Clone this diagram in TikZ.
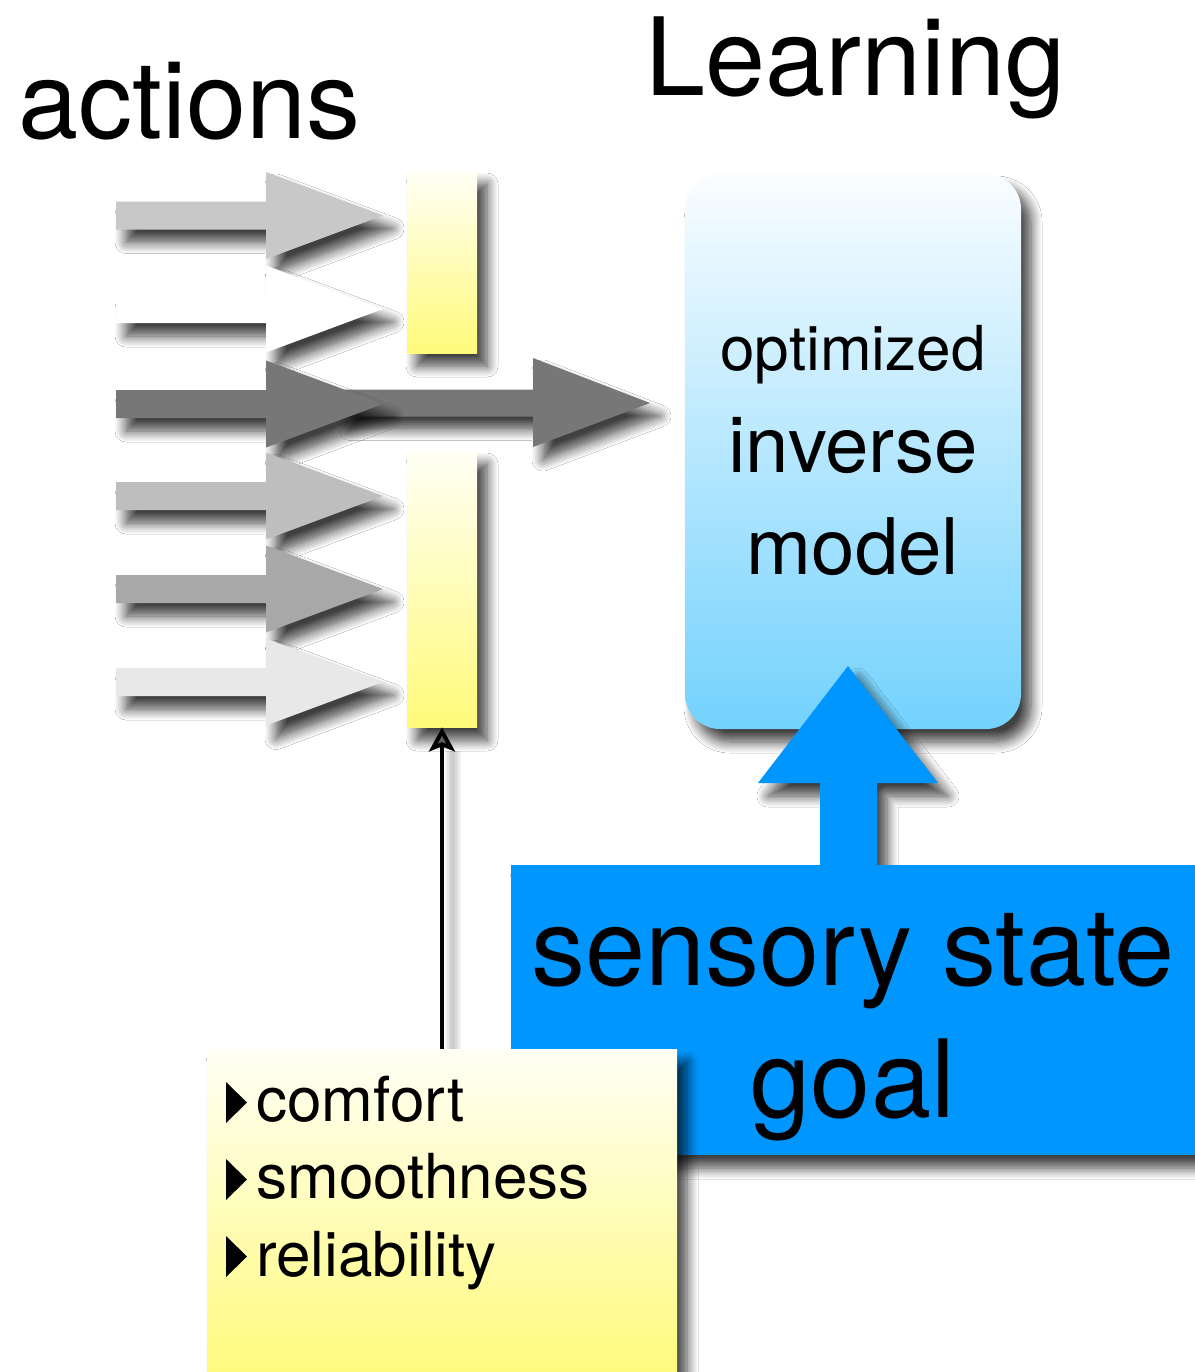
\documentclass[tikz,border=0pt]{standalone}
\usepackage{fontspec}
\setmainfont{TeX Gyre Heros}
\usetikzlibrary{shadows.blur,arrows.meta}
\definecolor{arrA}{RGB}{200,200,200}
\definecolor{arrC}{RGB}{119,119,119}
\definecolor{arrD}{RGB}{190,190,190}
\definecolor{arrE}{RGB}{168,168,168}
\definecolor{arrF}{RGB}{232,232,232}
\definecolor{goalblue}{RGB}{0,150,255}
\definecolor{yelTop}{RGB}{255,255,246}
\definecolor{yelBot}{RGB}{255,250,122}
\definecolor{bluTop}{RGB}{250,253,255}
\definecolor{bluBot}{RGB}{115,210,253}
\newcommand\blockarr[2]{%
  \path[shad,fill=#2] (116,{#1-14}) -- (266,{#1-14}) -- (266,{#1-43.5}) -- (383,#1)
    -- (266,{#1+43.5}) -- (266,{#1+14}) -- (116,{#1+14}) -- cycle;}
\newcommand\bul[1]{%
  \fill (226,{#1-41}) -- (247,{#1-20.5}) -- (226,#1) -- cycle;}
\begin{document}
\begin{tikzpicture}[x=0.5pt,y=-0.5pt,
  shad/.style={blur shadow={shadow xshift=5pt,shadow yshift=-6.5pt,shadow blur radius=5.5pt,shadow blur steps=10,shadow opacity=75}},
  yelbox/.style={shad,rectangle,inner sep=0pt,top color=yelTop,bottom color=yelBot,draw=none},
  lbl/.style={inner sep=0pt,anchor=base},
]
\useasboundingbox (0,0) rectangle (1195,1372);
\fill[white] (0,0) rectangle (1195,1372);

% titles
\node[lbl,anchor=base west] (actions) at (18,138) {\fontsize{54}{54}\selectfont actions};
\node[lbl,anchor=base west] (learning) at (645,95) {\fontsize{54}{54}\selectfont Learning};

% action arrows
\blockarr{215.5}{arrA}
\blockarr{309}{white}
\path[shad,fill=arrC] (340,389.5) -- (533,389.5) -- (533,358) -- (650,403) -- (533,447) -- (533,416.5) -- (340,416.5) -- cycle;
\blockarr{404}{arrC}
\blockarr{496}{arrD}
\blockarr{589}{arrE}
\blockarr{682}{arrF}

% yellow bars
\node[yelbox,minimum width=35pt,minimum height=91pt] (barA) at (442,262) {};
\node[yelbox,minimum width=35pt,minimum height=138pt] (barB) at (442,589) {};

% inverse model box
\node[shad,rectangle,rounded corners=17.5pt,inner sep=0pt,minimum width=168pt,minimum height=277.5pt,
  top color=bluTop,bottom color=bluBot] (model) at (853,451.5) {};
\node[lbl] (t1) at (853,370) {\fontsize{31}{31}\selectfont optimized};
\node[lbl] (t2) at (853,472) {\fontsize{39}{39}\selectfont inverse};
\node[lbl] (t3) at (853,574) {\fontsize{39}{39}\selectfont model};

% blue up arrow
\path[shad,fill=goalblue] (820,870) -- (820,783) -- (758,783) -- (848,666) -- (938,783) -- (877,783) -- (877,870) -- cycle;

% goal box
\node[shad,rectangle,inner sep=0pt,fill=goalblue,minimum width=349pt,minimum height=145pt] (goal) at (860,1010) {};
\node[lbl] (g1) at (853,985) {\fontsize{54}{54}\selectfont sensory state};
\node[lbl] (g2) at (853,1117) {\fontsize{54}{54}\selectfont goal};

% criteria box
\node[yelbox,minimum width=235pt,minimum height=165.5pt] (crit) at (442,1214.5) {};
\bul{1123}
\bul{1200}
\bul{1277}
\node[lbl,anchor=base west] (c1) at (256,1121) {\fontsize{31}{31}\selectfont comfort};
\node[lbl,anchor=base west] (c2) at (256,1198) {\fontsize{31}{31}\selectfont smoothness};
\node[lbl,anchor=base west] (c3) at (256,1276) {\fontsize{31}{31}\selectfont reliability};

% connector soft shadow and connector
\foreach \w in {8pt,6pt,4pt,2pt}
  \draw[line width=\w,black,opacity=0.05] ([xshift=5.5pt]crit.north) -- ([xshift=5.5pt,yshift=-12pt]barB.south);
\draw[line width=2pt,-{Stealth[length=12pt,width=13pt,inset=2.5pt]}] (crit.north) -- (barB.south);
\end{tikzpicture}
\end{document}
